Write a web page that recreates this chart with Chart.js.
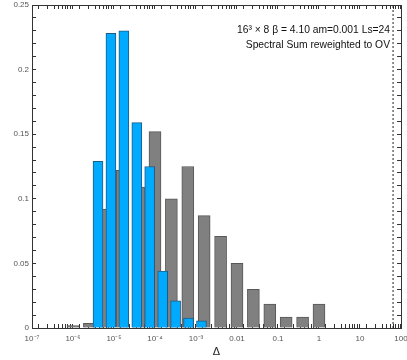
<!DOCTYPE html>
<html>
<head>
<meta charset="utf-8">
<script src="https://cdn.jsdelivr.net/npm/chart.js@4.4.0/dist/chart.umd.min.js"></script>
<style>
html, body { margin: 0; padding: 0; background: #fff; }
#wrap { width: 407px; height: 360px; }
</style>
</head>
<body>
<div id="wrap"><canvas id="chart"></canvas></div>
<script>
// histogram bin centres (Delta) and normalised counts
const grayBins = [1e-6, 2.51e-6, 6.31e-6, 1.58e-5, 3.98e-5, 1e-4, 2.51e-4, 6.31e-4, 1.58e-3, 3.98e-3, 0.01, 0.0251, 0.0631, 0.158, 0.398, 1];
const grayValues = [0.0018, 0.0036, 0.092, 0.122, 0.109, 0.152, 0.100, 0.125, 0.087, 0.071, 0.050, 0.030, 0.0185, 0.0085, 0.0085, 0.0185];
const blueBins = [4.07e-6, 8.41e-6, 1.74e-5, 3.6e-5, 7.43e-5, 1.54e-4, 3.18e-4, 6.58e-4, 1.36e-3];
const blueValues = [0.129, 0.228, 0.230, 0.159, 0.125, 0.044, 0.021, 0.0077, 0.0055];
const cutoff = 64;

const xTickValues = [1e-7, 1e-6, 1e-5, 1e-4, 1e-3, 0.01, 0.1, 1, 10, 100];
const xTickLabels = ['10⁻⁷', '10⁻⁶', '10⁻⁵', '10⁻⁴', '10⁻³', '0.01', '0.1', '1', '10', '100'];
const yTickLabels = ['0', '0.05', '0.1', '0.15', '0.2', '0.25'];
const noteLines = ['16³ × 8 β = 4.10 am=0.001 Ls=24', 'Spectral Sum reweighted to OV'];

const font = "'Liberation Sans', Arial, sans-serif";
const axisColor = '#333';

// major decades plus minor 2..9 ticks
const xAllTicks = [];
xTickValues.forEach((d, i) => {
    if (i === xTickValues.length - 1) { xAllTicks.push(d); return; }
    for (let k = 1; k < 10; k++) xAllTicks.push(d * k);
});

const xLabel = v => {
    const i = xTickValues.indexOf(v);
    return i >= 0 ? xTickLabels[i] : '';
};
const yLabel = v => {
    const n = Math.round(v * 100);
    return n % 5 === 0 ? yTickLabels[n / 5] : '';
};

const grid = { display: true, drawOnChartArea: false, drawTicks: true, tickLength: -4, color: axisColor };
const border = { display: true, color: axisColor, width: 1 };

// fixed axis sizes, no extra label overhang padding
const xAxis = (pos, show, size) => ({
    type: 'logarithmic', position: pos, min: 1e-7, max: 100,
    afterBuildTicks: axis => { axis.ticks = xAllTicks.map(v => ({ value: v })); },
    afterFit: axis => { axis.height = size; axis.paddingLeft = 0; axis.paddingRight = 0; },
    grid: grid, border: border,
    ticks: { display: show, autoSkip: false, maxRotation: 0, padding: 10, color: '#555',
        font: { family: font, size: 8 }, callback: xLabel }
});
const yAxis = (pos, show, size) => ({
    type: 'linear', position: pos, min: 0, max: 0.25,
    afterFit: axis => { axis.width = size; axis.paddingTop = 0; axis.paddingBottom = 0; },
    grid: grid, border: border,
    ticks: { display: show, stepSize: 0.01, autoSkip: false, padding: 7, color: '#555',
        font: { family: font, size: 8 }, callback: yLabel }
});

const scales = {
    x: xAxis('bottom', true, 32),
    x2: xAxis('top', false, 5),
    y: yAxis('left', true, 32),
    y2: yAxis('right', false, 6)
};
scales.x.title = { display: true, text: 'Δ', color: '#222', font: { family: font, size: 11 }, padding: { top: 0, bottom: 1 } };

new Chart(document.querySelector('#chart'), {
    type: 'bar',
    data: {
        datasets: [
            {
                label: 'reweighted',
                data: blueBins.map((x, i) => ({ x: x, y: blueValues[i] })),
                backgroundColor: '#00aaff',
                borderColor: '#1d5c85',
                borderWidth: 1,
                barThickness: 10,
                grouped: false
            },
            {
                label: 'spectral sum',
                data: grayBins.map((x, i) => ({ x: x, y: grayValues[i] })),
                backgroundColor: '#808080',
                borderColor: '#575757',
                borderWidth: 1,
                barThickness: 12,
                grouped: false
            },
            {
                type: 'line',
                label: 'cut',
                data: [{ x: cutoff, y: 0 }, { x: cutoff, y: 0.25 }],
                borderColor: '#222',
                borderWidth: 1,
                borderDash: [2, 2],
                pointRadius: 0
            }
        ]
    },
    options: {
        responsive: true,
        maintainAspectRatio: false,
        animation: false,
        layout: { padding: 0 },
        plugins: { legend: { display: false }, tooltip: { enabled: false } },
        scales: scales
    },
    plugins: [{
        id: 'note',
        afterDraw(chart) {
            const { ctx, chartArea } = chart;
            ctx.save();
            ctx.textAlign = 'right';
            ctx.fillStyle = '#111';
            ctx.font = "10.3px " + font;
            ctx.fillText(noteLines[0], chartArea.right - 11, chartArea.top + 28);
            ctx.fillText(noteLines[1], chartArea.right - 11, chartArea.top + 43);
            ctx.restore();
        }
    }]
});
</script>
</body>
</html>
